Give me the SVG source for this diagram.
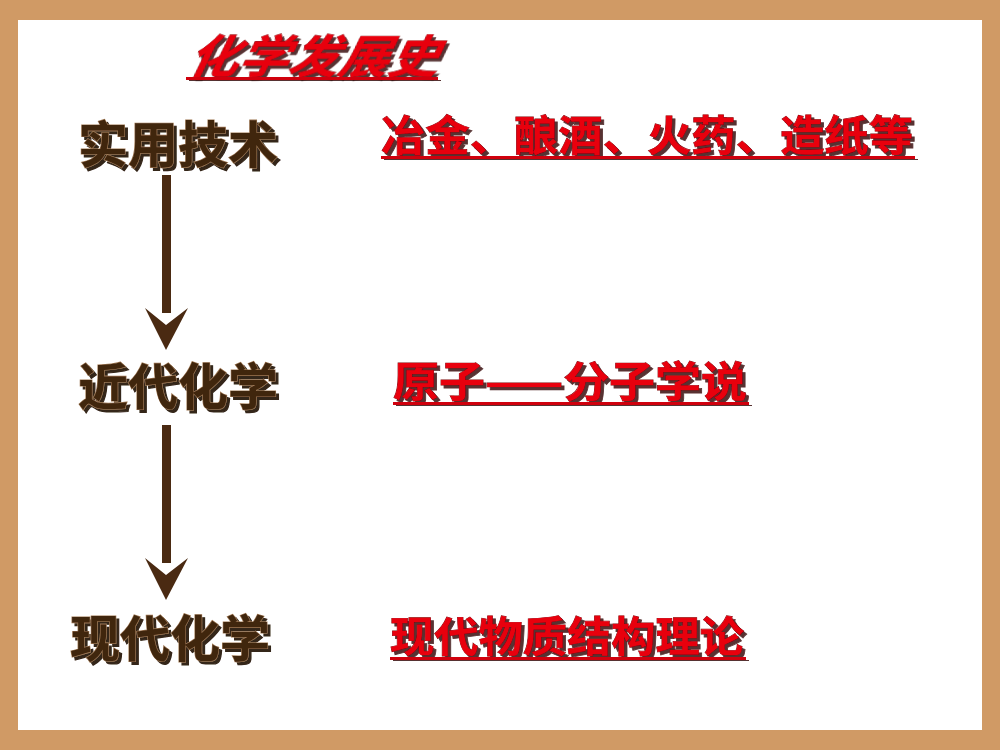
<svg xmlns="http://www.w3.org/2000/svg" width="1000" height="750" viewBox="0 0 1000 750">
<defs>
<style>
.cjk{font-family:"Noto Sans CJK SC","Noto Sans CJK TC",sans-serif;font-weight:bold}
.brown{fill:#40250f;stroke:#a07a55;stroke-width:1.2;paint-order:stroke;filter:url(#shB)}
.red{fill:#e8000f;stroke:#7a0008;stroke-width:0.8;paint-order:stroke;filter:url(#shR)}
.ul{fill:#d0000d;filter:url(#shR)}
.arrow{fill:#4a2a12}
</style>
<filter id="shB" x="-5%" y="-20%" width="115%" height="150%">
<feDropShadow dx="3" dy="3" stdDeviation="0.6" flood-color="#1a0d05" flood-opacity="0.9"/>
</filter>
<filter id="shR" x="-5%" y="-20%" width="115%" height="150%">
<feDropShadow dx="3" dy="3" stdDeviation="0.6" flood-color="#3a1010" flood-opacity="0.85"/>
</filter>
</defs>
<rect x="0" y="0" width="1000" height="750" fill="#d09a65"/>
<rect x="18" y="20" width="964" height="710" fill="#ffffff"/>

<g id="title">
<text class="cjk red" x="186" y="73" font-size="46" font-style="italic" transform="skewX(-12) translate(16,0)" textLength="250" lengthAdjust="spacingAndGlyphs">化学发展史</text>
<rect class="ul" x="186" y="77" width="252" height="3"/>
</g>

<g id="node-shiyong">
<text class="cjk brown" x="78" y="163" font-size="50" textLength="200" lengthAdjust="spacingAndGlyphs">实用技术</text>
</g>
<g id="node-jindai">
<text class="cjk brown" x="78" y="405" font-size="50" textLength="200" lengthAdjust="spacingAndGlyphs">近代化学</text>
</g>
<g id="node-xiandai">
<text class="cjk brown" x="70" y="657" font-size="50" textLength="200" lengthAdjust="spacingAndGlyphs">现代化学</text>
</g>

<g id="label-1">
<text class="cjk red" x="381" y="151" font-size="42" textLength="532" lengthAdjust="spacingAndGlyphs">冶金、酿酒、火药、造纸等</text>
<rect class="ul" x="381" y="156" width="534" height="3"/>
</g>
<g id="label-2">
<text class="cjk red" x="393" y="397" font-size="42" textLength="354" lengthAdjust="spacingAndGlyphs">原子——分子学说</text>
<rect class="ul" x="393" y="402" width="356" height="3"/>
</g>
<g id="label-3">
<text class="cjk red" x="390" y="652" font-size="42" textLength="354" lengthAdjust="spacingAndGlyphs">现代物质结构理论</text>
<rect class="ul" x="390" y="657" width="356" height="3"/>
</g>

<g id="connectors">
<rect class="arrow" x="162" y="175" width="9" height="138"/>
<polygon class="arrow" points="145,308 166,350 188,308 166,325"/>
<rect class="arrow" x="162" y="425" width="9" height="138"/>
<polygon class="arrow" points="145,558 166,600 188,558 166,575"/>
</g>
</svg>
